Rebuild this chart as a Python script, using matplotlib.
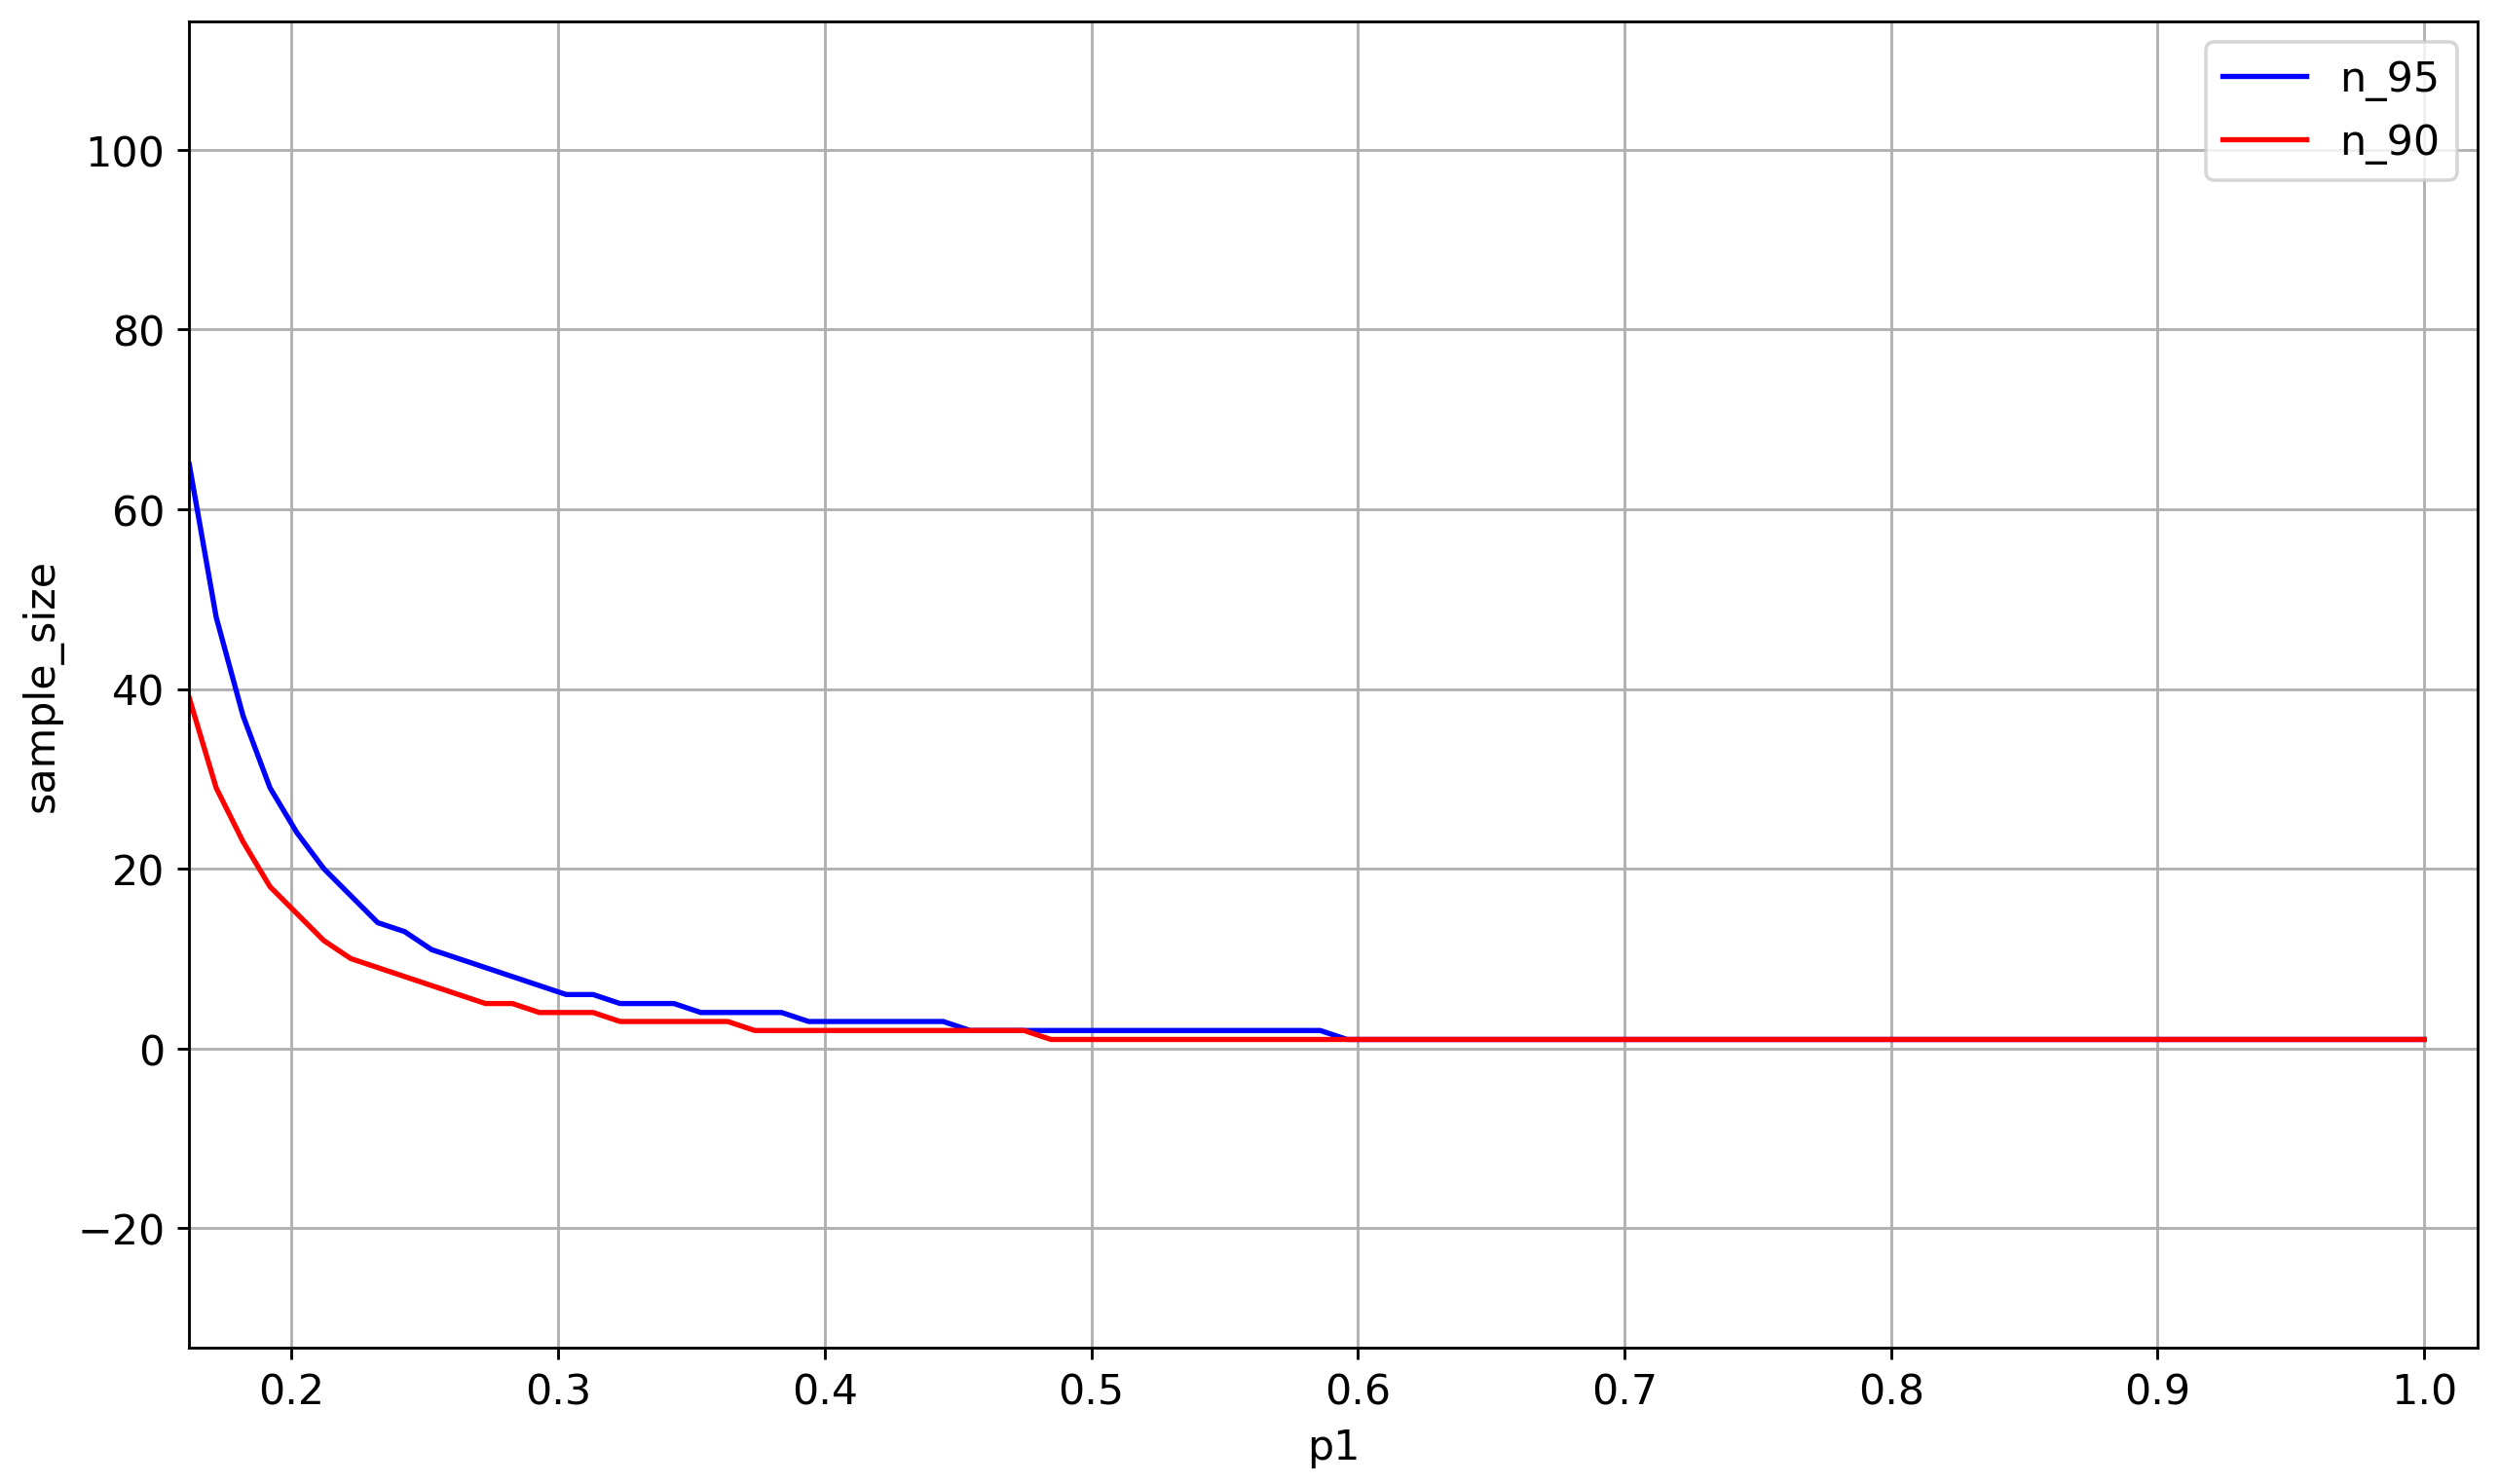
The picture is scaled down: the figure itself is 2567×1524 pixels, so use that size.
import numpy as np
import matplotlib
matplotlib.use('Agg')
import matplotlib.pyplot as plt

# === DATA ===
# p1 grid: np.linspace(0, 1, 100) from the 17th point on
p1 = np.linspace(0, 1, 100)[16:]

n_95 = [65, 48, 37, 29, 24, 20, 17, 14, 13, 11,
        10, 9, 8, 7, 6, 6, 5, 5, 5, 4,
        4, 4, 4, 3, 3, 3, 3, 3, 3, 2,
        2, 2, 2, 2, 2, 2, 2, 2, 2, 2,
        2, 2, 2] + [1] * 41

n_90 = [39, 29, 23, 18, 15, 12, 10, 9, 8, 7,
        6, 5, 5, 4, 4, 4, 3, 3, 3, 3,
        3, 2, 2, 2, 2, 2, 2, 2, 2, 2,
        2, 2] + [1] * 52

plt.rcParams['font.size'] = 12

# === PLOT ===
fig = plt.figure(figsize=(10, 5.94), dpi=256.7)
ax = fig.add_axes([0.0757, 0.0918, 0.9153, 0.8933])

ax.plot(p1, n_95, color='b', label='n_95')
ax.plot(p1, n_90, color='r', label='n_90')

ax.set_xlim(p1[0], 1.02)
ax.set_ylim(-33.3, 114.3)
ax.set_xlabel('p1')
ax.set_ylabel('sample_size')
ax.grid(True)
ax.legend(loc='upper right')

fig.savefig('out.png', dpi=256.7)
